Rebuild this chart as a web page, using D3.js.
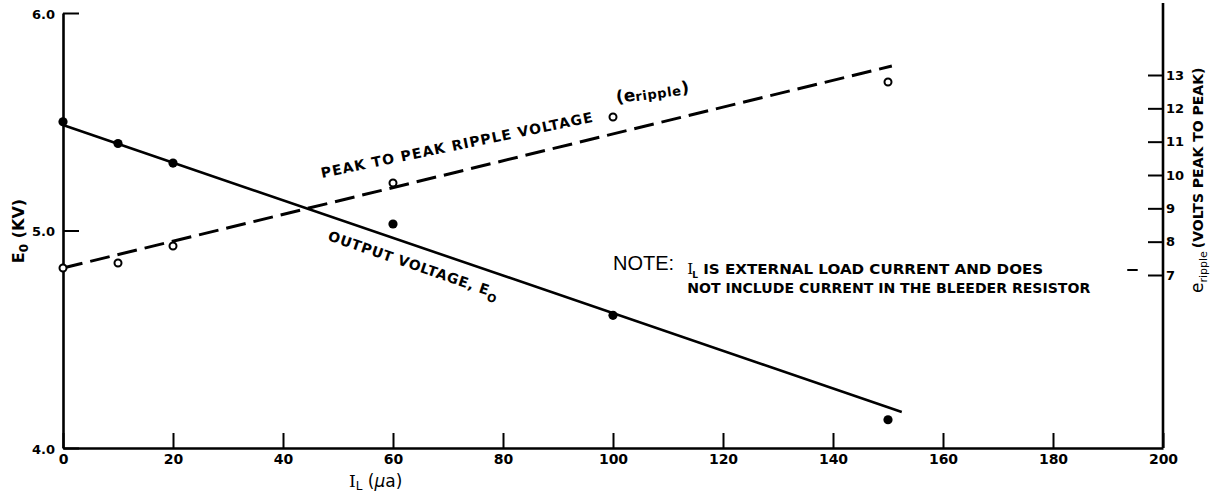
<!DOCTYPE html>
<html>
<head>
<meta charset="utf-8">
<script src="https://cdn.jsdelivr.net/npm/d3@7"></script>
<style>
  html, body { margin: 0; padding: 0; background: #fff; }
  svg { display: block; }
  .lettering { font-family: "DejaVu Sans", sans-serif; font-weight: bold; fill: #000; }
</style>
</head>
<body>
<script>
// Load current I_L in microamps at which readings were taken
const currentUA = [0, 10, 20, 60, 100, 150];
// Output voltage E0 (kV), filled dots
const outputKV = [5.50, 5.40, 5.31, 5.03, 4.61, 4.13];
// Peak-to-peak ripple voltage (V), open circles
const rippleV = [7.21, 7.36, 7.87, 9.76, 11.74, 12.79];

// Faired straight lines through each set of readings (end points)
const outputFitUA = [0, 152.5];
const outputFitKV = [5.485, 4.166];
const rippleFitUA = [0, 150.7];
const rippleFitV = [7.21, 13.27];

// Axis ticks
const currentTicks = [0, 20, 40, 60, 80, 100, 120, 140, 160, 180, 200];
const kvTicks = [4.0, 5.0, 6.0];
const rippleTicks = [7, 8, 9, 10, 11, 12, 13];

// Axis extents
const currentDomain = [0, 200];
const kvDomain = [4.0, 6.0];
const rippleDomain = [1.81, 14.86];
const rippleAxisTop = 15.16;

const W = 1217, H = 495;
const plot = { left: 63, right: 1163, top: 13, bottom: 448 };

const svg = d3.select("body").append("svg")
  .attr("width", W).attr("height", H)
  .attr("viewBox", `0 0 ${W} ${H}`);

const x = d3.scaleLinear().domain(currentDomain).range([plot.left, plot.right]);
const yL = d3.scaleLinear().domain(kvDomain).range([plot.bottom, plot.top]);
const yR = d3.scaleLinear().domain(rippleDomain).range([plot.bottom, plot.top]);

function styleAxis(g, fontSize) {
  g.selectAll(".domain").attr("stroke", "#000").attr("stroke-width", 2.6);
  g.selectAll(".tick line").attr("stroke", "#000").attr("stroke-width", 2);
  g.selectAll(".tick text")
    .attr("fill", "#000")
    .style("font-family", "'DejaVu Sans', sans-serif")
    .style("font-weight", "bold")
    .style("font-size", fontSize + "px");
}

// Left axis: E0 in kV, ticks pointing into the plot
const gL = svg.append("g")
  .attr("transform", `translate(${x(0)},0)`)
  .call(d3.axisLeft(yL).tickValues(kvTicks).tickFormat(d3.format(".1f"))
    .tickSizeInner(-16).tickSizeOuter(0).tickPadding(8));
styleAxis(gL, 13);
gL.selectAll(".tick text").attr("dy", "0.4em");

// Bottom axis: I_L in microamps
const gB = svg.append("g")
  .attr("transform", `translate(0,${yL(kvDomain[0])})`)
  .call(d3.axisBottom(x).tickValues(currentTicks).tickFormat(d3.format("d"))
    .tickSizeInner(-15).tickSizeOuter(0).tickPadding(6));
styleAxis(gB, 14);

// Right axis: ripple volts, ticks pointing into the plot
const gR = svg.append("g")
  .attr("transform", `translate(${x(currentDomain[1])},0)`)
  .call(d3.axisRight(yR).tickValues(rippleTicks).tickFormat(d3.format("d"))
    .tickSizeInner(-15).tickSizeOuter(0).tickPadding(3));
styleAxis(gR, 13);
gR.select(".domain").remove();
gR.append("line")
  .attr("x1", 0).attr("x2", 0)
  .attr("y1", yR(rippleDomain[0])).attr("y2", yR(rippleAxisTop))
  .attr("stroke", "#000").attr("stroke-width", 2.6);

// Small pen stroke beside the 7 V tick
svg.append("line")
  .attr("x1", x(193.5)).attr("x2", x(195.4))
  .attr("y1", yR(7.15)).attr("y2", yR(7.15))
  .attr("stroke", "#000").attr("stroke-width", 2);

// Faired lines
const outputLine = d3.line().x(d => x(d[0])).y(d => yL(d[1]));
const rippleLine = d3.line().x(d => x(d[0])).y(d => yR(d[1]));

svg.append("path")
  .datum(d3.zip(outputFitUA, outputFitKV))
  .attr("d", outputLine)
  .attr("fill", "none").attr("stroke", "#000").attr("stroke-width", 2.6);

svg.append("path")
  .datum(d3.zip(rippleFitUA, rippleFitV))
  .attr("d", rippleLine)
  .attr("fill", "none").attr("stroke", "#000").attr("stroke-width", 3)
  .attr("stroke-dasharray", "20,8");

// Readings
svg.append("g").selectAll("circle")
  .data(d3.zip(currentUA, outputKV))
  .join("circle")
  .attr("cx", d => x(d[0])).attr("cy", d => yL(d[1]))
  .attr("r", 4.6).attr("fill", "#000");

svg.append("g").selectAll("circle")
  .data(d3.zip(currentUA, rippleV))
  .join("circle")
  .attr("cx", d => x(d[0])).attr("cy", d => yR(d[1]))
  .attr("r", 3.5).attr("fill", "#fff").attr("stroke", "#000").attr("stroke-width", 2);

// Curve labels, lettered along each line
svg.append("text").attr("class", "lettering")
  .attr("transform", `translate(${x(47.1)},${yR(9.91)}) rotate(-11.7)`)
  .style("font-size", "14px")
  .attr("textLength", 277).attr("lengthAdjust", "spacing")
  .text("PEAK TO PEAK RIPPLE VOLTAGE");

const rl = svg.append("text").attr("class", "lettering")
  .attr("transform", `translate(${x(100.7)},${yR(12.16)}) rotate(-8)`)
  .style("font-size", "17px");
rl.append("tspan").text("(e");
rl.append("tspan").attr("dy", 1).style("font-size", "13px").style("letter-spacing", "0.6px").text("ripple");
rl.append("tspan").attr("dy", -1).text(")");

const ol = svg.append("text").attr("class", "lettering")
  .attr("transform", `translate(${x(48)},${yL(4.956)}) rotate(19)`)
  .style("font-size", "14px").style("letter-spacing", "0.7px");
ol.append("tspan").text("OUTPUT VOLTAGE, E");
ol.append("tspan").attr("dy", 5).style("font-size", "11px").text("O");

// Note
svg.append("text")
  .attr("x", x(100)).attr("y", yR(7.15))
  .style("font-family", "'Liberation Sans', sans-serif")
  .style("font-size", "20px").attr("fill", "#000")
  .text("NOTE:");

svg.append("text").attr("class", "lettering")
  .attr("x", x(113.5)).attr("y", yR(7.03))
  .style("font-family", "'DejaVu Serif', serif")
  .style("font-size", "15px").style("font-weight", "normal")
  .text("I");
svg.append("text").attr("class", "lettering")
  .attr("x", x(114.4)).attr("y", yR(6.92))
  .style("font-size", "9px")
  .text("L");
svg.append("text").attr("class", "lettering")
  .attr("x", x(116.4)).attr("y", yR(7.03))
  .style("font-size", "14px")
  .attr("textLength", 340).attr("lengthAdjust", "spacingAndGlyphs")
  .text("IS EXTERNAL LOAD CURRENT AND DOES");
svg.append("text").attr("class", "lettering")
  .attr("x", x(113.5)).attr("y", yR(6.46))
  .style("font-size", "14px")
  .attr("textLength", 403).attr("lengthAdjust", "spacingAndGlyphs")
  .text("NOT INCLUDE CURRENT IN THE BLEEDER RESISTOR");

// Axis titles
const lt = svg.append("text").attr("class", "lettering")
  .attr("transform", `translate(24,${yL(4.85)}) rotate(-90)`)
  .style("font-size", "16px");
lt.append("tspan").text("E");
lt.append("tspan").attr("dy", 4).style("font-size", "12px").text("0");
lt.append("tspan").attr("dy", -4).text(" (KV)");

const bt = svg.append("text")
  .attr("x", x(52)).attr("y", 487)
  .style("font-family", "'DejaVu Sans', sans-serif")
  .style("font-size", "17px").attr("fill", "#000");
bt.append("tspan").style("font-family", "'DejaVu Serif', serif").text("I");
bt.append("tspan").attr("dy", 3).style("font-size", "12px").text("L");
bt.append("tspan").attr("dy", -3).text(" (");
bt.append("tspan").style("font-style", "italic").text("μ");
bt.append("tspan").text("a)");

const rt = svg.append("text").attr("class", "lettering")
  .attr("transform", `translate(1203,${yR(6.46)}) rotate(-90)`)
  .style("font-size", "14px");
rt.append("tspan").style("font-size", "17px").style("font-weight", "normal").text("e");
rt.append("tspan").attr("dy", 4).style("font-size", "11px").style("font-weight", "normal").text("ripple");
rt.append("tspan").attr("dy", -4).attr("dx", 3).text("(VOLTS  PEAK  TO  PEAK)");
</script>
</body>
</html>
